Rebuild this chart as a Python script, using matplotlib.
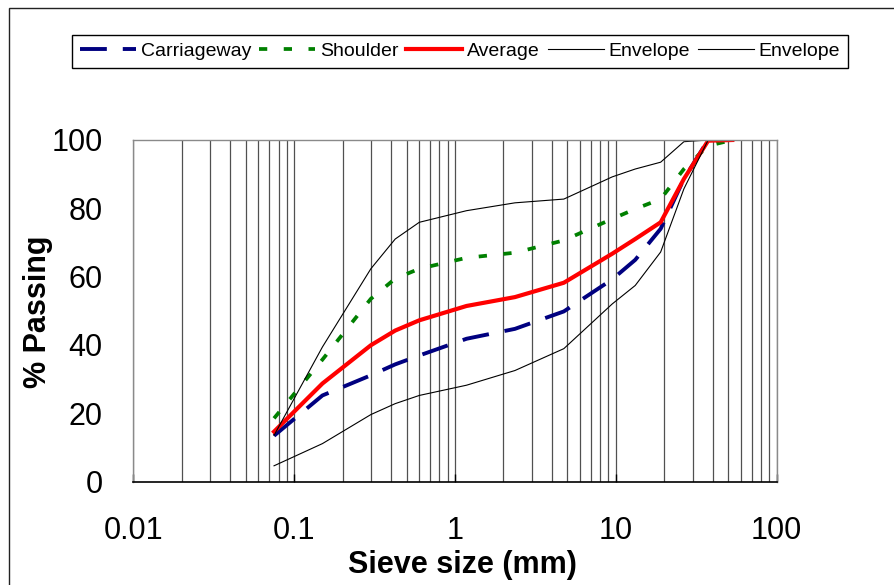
import matplotlib
matplotlib.use("Agg")
import matplotlib.pyplot as plt
from matplotlib.patches import Rectangle
from matplotlib.ticker import LogLocator, NullFormatter, FixedLocator

plt.rcParams['font.family'] = ['Liberation Sans', 'DejaVu Sans']

# sieve sizes (mm) and % passing
sieve = [0.075, 0.15, 0.3, 0.425, 0.6, 1.18, 2.36, 4.75, 9.5, 13.2, 19, 26.5, 37.5, 53]
carriageway = [13.4, 25.2, 31.1, 34.3, 36.9, 41.8, 44.7, 49.8, 59.2, 64.9, 74.0, 88.6, 100, 100]
shoulder = [18.5, 35.7, 53.5, 59.4, 62.3, 65.5, 67.0, 70.6, 76.9, 79.8, 82.7, 91.5, 98.3, 100]
average = [14.6, 28.7, 39.9, 44.2, 47.2, 51.4, 54.0, 58.2, 66.7, 71.0, 75.9, 88.6, 99.8, 100]
env_upper = [13.5, 39.4, 62.3, 71.0, 75.9, 79.3, 81.6, 82.7, 89.2, 91.5, 93.5, 99.5, 100, 100]
env_lower = [4.6, 11.1, 19.6, 22.8, 25.2, 28.2, 32.5, 38.9, 52.0, 57.4, 67.2, 85.7, 100, 100]

xticks = [0.01, 0.1, 1, 10, 100]
xticklabels = ['0.01', '0.1', '1', '10', '100']
yticks = [0, 20, 40, 60, 80, 100]

fig = plt.figure(figsize=(8.95, 5.85), dpi=100)
ax = fig.add_axes([0.1489, 0.1769, 0.7189, 0.5838])

ax.plot(sieve, carriageway, color='#000080', lw=2.8, dashes=(6.9, 4.1), label='Carriageway')
ax.plot(sieve, shoulder, color='#008000', lw=2.7, dashes=(2.2, 4.4), label='Shoulder')
ax.plot(sieve, average, color='#ff0000', lw=3.0, label='Average')
ax.plot(sieve, env_upper, color='black', lw=0.8, label='Envelope')
ax.plot(sieve, env_lower, color='black', lw=0.8, label='Envelope')

ax.set_xscale('log')
ax.set_xlim(0.01, 100)
ax.set_ylim(0, 100)

ax.xaxis.set_major_locator(FixedLocator(xticks))
ax.set_xticklabels(xticklabels)
ax.xaxis.set_minor_locator(LogLocator(base=10, subs=range(2, 10)))
ax.xaxis.set_minor_formatter(NullFormatter())
ax.set_yticks(yticks)

ax.grid(True, which='both', axis='x', color='#505050', lw=0.9)
ax.set_axisbelow(True)

ax.tick_params(axis='x', which='major', direction='in', length=6, width=1, pad=25,
               labelsize=22, color='black')
ax.tick_params(axis='x', which='minor', length=0)
ax.tick_params(axis='y', length=0, pad=22, labelsize=22)

for side in ['left', 'top', 'right']:
    ax.spines[side].set_color('#8a8a8a')
    ax.spines[side].set_linewidth(1.0)
ax.spines['bottom'].set_color('black')
ax.spines['bottom'].set_linewidth(1.2)

ax.set_xlabel('Sieve size (mm)', fontsize=22, fontweight='bold')
ax.xaxis.label.set_va('center')
ax.xaxis.set_label_coords(0.511, -0.2445)
ax.set_ylabel('% Passing', fontsize=22, fontweight='bold')
ax.yaxis.label.set_va('center')
ax.yaxis.set_label_coords(-0.148, 0.496)

leg = ax.legend(loc='center', bbox_to_anchor=(460 / 895, 1 - 51.5 / 585),
                bbox_transform=fig.transFigure, ncol=5, fontsize=14,
                frameon=True, fancybox=False, framealpha=1, edgecolor='black',
                handlelength=2.88, handletextpad=0.25, columnspacing=0.4,
                borderpad=0.4, borderaxespad=0)
leg.get_frame().set_linewidth(1.0)

# outer chart border
fig.patches.append(Rectangle((9 / 895, -0.5), 1.5, 1 - 7.5 / 585 + 0.5,
                             transform=fig.transFigure, fill=False,
                             edgecolor='#222222', lw=1.0))

fig.savefig('out.png', dpi=100)
